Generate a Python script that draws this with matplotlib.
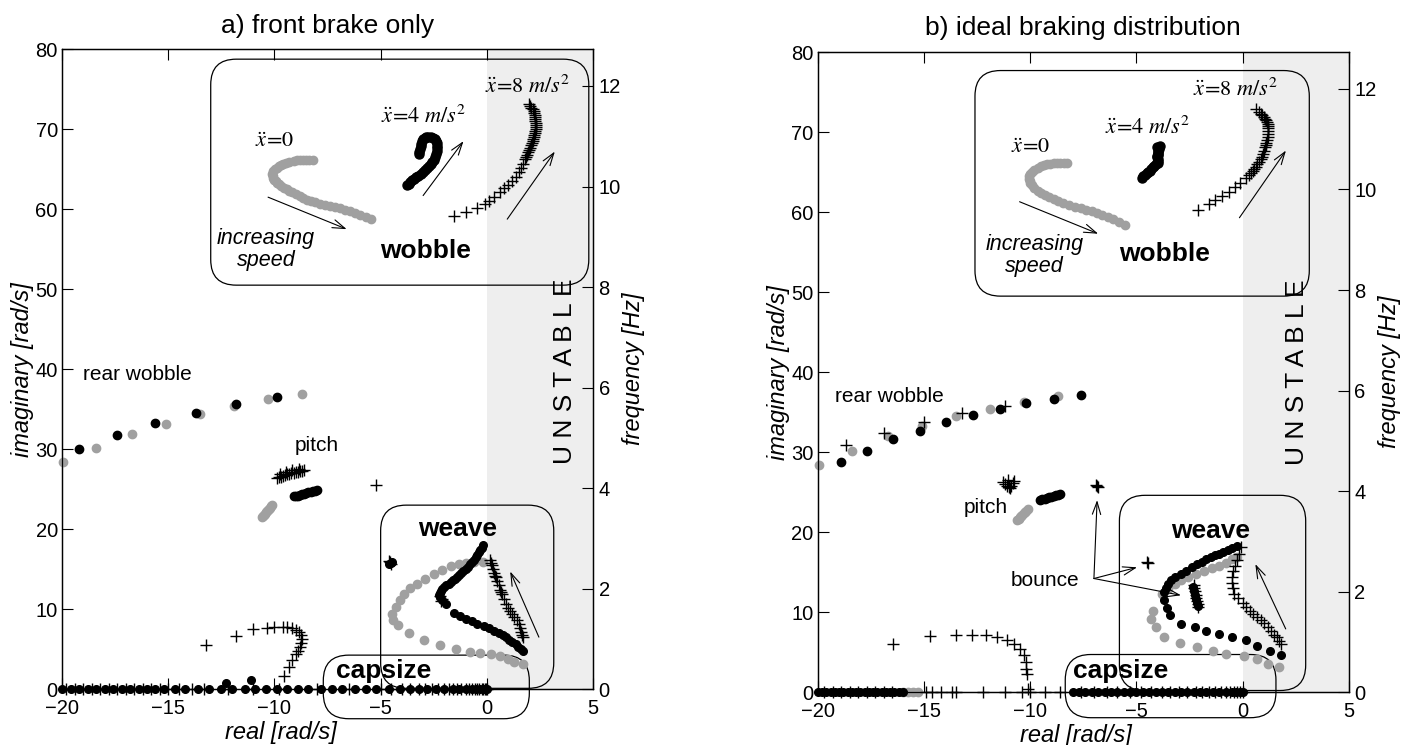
import numpy as np
import matplotlib
matplotlib.use("Agg")
import matplotlib.pyplot as plt
from matplotlib.patches import FancyBboxPatch

plt.rcParams['font.family'] = ['Liberation Sans', 'DejaVu Sans']
plt.rcParams['mathtext.fontset'] = 'stix'

GREY = '#a0a0a0'
SHADE = '#eeeeee'

# ---------------- panel a) front brake only ----------------
a_rw_grey_x = [-19.95, -18.4, -16.7, -15.1, -13.5, -11.9, -10.3, -8.7]
a_rw_grey_y = [28.4, 30.2, 31.9, 33.2, 34.4, 35.4, 36.25, 36.9]
a_rw_black_x = [-19.2, -17.4, -15.6, -13.7, -11.8, -9.9]
a_rw_black_y = [30.0, 31.75, 33.3, 34.5, 35.6, 36.5]

a_pitch_plus_x = [-9.9, -9.8, -9.7, -9.6, -9.5, -9.4, -9.3, -9.2, -9.1, -9.0, -8.9, -8.8, -8.7, -8.6,
                  -9.75, -9.45, -9.15, -8.85, -5.2]
a_pitch_plus_y = [26.4, 26.5, 26.55, 26.7, 26.75, 26.85, 26.9, 27.0, 27.05, 27.1, 27.2, 27.25, 27.3,
                  27.35, 26.9, 27.2, 27.35, 27.5, 25.5]
a_pitch_black_x = [-9.1, -9.0, -8.9, -8.8, -8.7, -8.6, -8.5, -8.4, -8.3, -8.2, -8.1, -8.0]
a_pitch_black_y = [24.1, 24.15, 24.2, 24.3, 24.35, 24.45, 24.5, 24.6, 24.7, 24.75, 24.8, 24.85]
a_pitch_grey_x = [-10.6, -10.55, -10.5, -10.45, -10.4, -10.35, -10.3, -10.25, -10.2, -10.15, -10.1]
a_pitch_grey_y = [21.5, 21.65, 21.8, 21.95, 22.1, 22.25, 22.4, 22.55, 22.7, 22.85, 23.0]

a_wv_grey_x = [-0.2, -0.6, -1.0, -1.3, -1.7, -2.1, -2.5, -2.9, -3.3, -3.6, -3.9, -4.1, -4.3, -4.45,
               -4.4, -4.2, -3.65, -2.95, -2.2, -1.45, -0.8, -0.3, 0.2, 0.6, 1.0, 1.3, 1.7]
a_wv_grey_y = [15.9, 15.85, 15.8, 15.7, 15.4, 14.9, 14.4, 13.8, 13.2, 12.6, 11.9, 11.1, 10.3, 9.4,
               8.7, 8.0, 7.0, 6.2, 5.5, 5.0, 4.7, 4.5, 4.35, 4.2, 3.8, 3.4, 3.1]
a_wv_black_x = [-0.2, -0.25, -0.3, -0.38, -0.45, -0.52, -0.6, -0.7, -0.8, -0.9, -1.0, -1.1, -1.2, -1.3,
                -1.4, -1.5, -1.6, -1.7, -1.8, -1.9, -2.0, -2.1, -2.15, -2.2, -2.25, -2.2, -2.1,
                -1.9, -1.55, -1.25, -1.0, -0.7, -0.45, -0.15, 0.1, 0.35, 0.55, 0.75, 0.9, 1.05, 1.2,
                1.35, 1.45, 1.6, 1.7]
a_wv_black_y = [18.0, 17.7, 17.4, 17.1, 16.8, 16.5, 16.2, 15.9, 15.6, 15.3, 15.0, 14.75, 14.5, 14.25,
                14.0, 13.8, 13.6, 13.4, 13.2, 13.0, 12.8, 12.55, 12.3, 12.05, 11.8, 11.5, 11.2,
                10.6, 9.5, 9.15, 8.8, 8.5, 8.2, 7.9, 7.6, 7.3, 7.0, 6.75, 6.5, 6.2, 5.9,
                5.6, 5.3, 5.0, 4.75]
a_wv_plus_x = [0.15, 0.2, 0.25, 0.3, 0.35, 0.4, 0.45, 0.5, 0.55, 0.6, 0.65, 0.7, 0.8, 0.9, 1.0, 1.1,
               1.2, 1.3, 1.4, 1.5, 1.55, 1.6, 1.65, 1.7, -2.15, -2.1, -2.2, -4.55, -4.5, -4.6]
a_wv_plus_y = [16.1, 15.8, 15.5, 15.0, 14.5, 14.2, 14.0, 13.5, 13.0, 12.4, 12.1, 11.9, 11.3, 10.7,
               10.2, 9.8, 9.4, 9.0, 8.6, 8.1, 7.6, 7.2, 6.8, 6.5, 11.0, 11.3, 11.6, 15.9, 15.7, 16.0]
a_bounce_black_x = [-4.5, -4.45, -4.6]
a_bounce_black_y = [15.8, 15.95, 15.7]

a_low_plus_x = [-13.2, -11.8, -11.0, -10.35, -10.0, -9.6, -9.4, -9.15, -9.0, -8.85, -8.75, -8.7,
                -8.75, -8.8, -8.9, -9.0, -9.15, -9.3, -9.55]
a_low_plus_y = [5.5, 6.7, 7.5, 7.7, 7.8, 7.8, 7.75, 7.6, 7.4, 7.1, 6.8, 6.3, 5.8, 5.3, 4.8, 4.4, 3.6,
                2.8, 1.6]
a_low_black_x = [-12.3, -11.1]
a_low_black_y = [0.8, 1.1]

a_axis_black_x = [-20, -19.6, -19.2, -18.8, -18.4, -18.0, -17.6, -17.2, -16.8, -16.4, -16.0, -15.6,
                  -15.2, -14.7, -14.2, -13.6, -13.1, -12.5, -12.0, -11.4, -10.9, -10.4, -9.9, -9.4,
                  -8.9, -8.4, -7.8, -7.3, -6.8, -6.2, -5.7, -5.2, -4.6, -4.1, -3.6, -3.2, -2.8,
                  -2.4, -2.0, -1.6, -1.3, -1.0, -0.7, -0.5, -0.3, -0.15, 0.0]
a_axis_plus_x = [-19.8, -19.4, -19.0, -18.6, -18.2, -17.8, -17.4, -17.0, -16.6, -16.2, -15.8, -15.4,
                 -15.0, -14.5, -13.9, -13.3, -12.2, -11.0, -9.8, -8.0, -6.5, -5.0, -4.5, -4.0, -3.6,
                 -3.2, -2.9, -2.6, -2.3, -2.0, -1.8, -1.6, -1.4, -1.2, -1.0, -0.85, -0.7, -0.55,
                 -0.45, -0.35, -0.25, -0.18, -0.1, -0.05, 0.0]

a_wb_grey_x = [-8.2, -8.35, -8.5, -8.65, -8.8, -8.95, -9.1, -9.3, -9.45, -9.6, -9.7, -9.8, -9.9,
               -9.98, -10.05, -10.1, -10.08, -10.05, -10.0, -9.95, -9.88, -9.8, -9.68, -9.55, -9.42,
               -9.3, -9.15, -9.0, -8.82, -8.65, -8.48, -8.3, -8.07, -7.85, -7.62, -7.4, -7.15, -6.9,
               -6.68, -6.45, -6.2, -5.95, -5.7, -5.45]
a_wb_grey_y = [66.2, 66.2, 66.2, 66.2, 66.2, 66.1, 66.0, 65.9, 65.75, 65.6, 65.5, 65.35, 65.2, 65.0,
               64.8, 64.4, 64.15, 63.9, 63.7, 63.5, 63.3, 63.1, 62.9, 62.7, 62.5, 62.3, 62.1, 61.9,
               61.7, 61.45, 61.2, 61.0, 60.85, 60.7, 60.55, 60.4, 60.25, 60.1, 59.95, 59.8, 59.55,
               59.3, 59.0, 58.75]
a_wb_black_x = [-3.75, -3.68, -3.6, -3.52, -3.45, -3.35, -3.25, -3.12, -3.0, -2.9, -2.8, -2.72, -2.65,
                -2.58, -2.5, -2.45, -2.4, -2.37, -2.35, -2.35, -2.35, -2.4, -2.45, -2.55, -2.65,
                -2.75, -2.85, -2.93, -3.0, -3.05, -3.1, -3.12, -3.15, -3.18, -3.2]
a_wb_black_y = [63.0, 63.2, 63.4, 63.6, 63.8, 64.0, 64.2, 64.4, 64.6, 64.85, 65.1, 65.35, 65.6, 65.9,
                66.2, 66.55, 66.9, 67.25, 67.6, 67.95, 68.3, 68.55, 68.8, 68.9, 69.0, 69.0, 69.0,
                68.9, 68.75, 68.5, 68.2, 67.85, 67.5, 67.2, 66.9]
a_wb_plus_x = [-1.55, -1.0, -0.45, -0.1, 0.1, 0.35, 0.6, 0.8, 1.0, 1.2, 1.35, 1.5, 1.6, 1.7, 1.8, 1.85,
               1.9, 1.95, 2.0, 2.05, 2.1, 2.12, 2.15, 2.18, 2.2, 2.22, 2.25, 2.28, 2.3, 2.3, 2.3, 2.3,
               2.29, 2.28, 2.26, 2.25, 2.22, 2.2, 2.15, 2.1, 2.05, 2.0]
a_wb_plus_y = [59.2, 59.7, 60.2, 60.6, 61.0, 61.5, 62.1, 62.7, 63.0, 63.5, 64.0, 64.6, 65.2, 65.7,
               66.3, 66.55, 66.8, 67.1, 67.4, 67.7, 68.0, 68.25, 68.5, 68.75, 69.0, 69.25, 69.5, 69.75,
               70.0, 70.25, 70.5, 70.75, 71.0, 71.25, 71.5, 71.75, 72.0, 72.25, 72.5, 72.7, 72.9, 73.1]

# ---------------- panel b) ideal braking distribution ----------------
b_rw_grey_x = [-19.94, -18.4, -16.7, -15.1, -13.5, -11.9, -10.3, -8.7]
b_rw_grey_y = [28.4, 30.2, 32.0, 33.3, 34.5, 35.4, 36.25, 37.0]
b_rw_black_x = [-18.9, -17.7, -16.45, -15.2, -13.95, -12.7, -11.4, -10.2, -8.9, -7.6]
b_rw_black_y = [28.8, 30.2, 31.6, 32.7, 33.75, 34.7, 35.4, 36.1, 36.7, 37.1]
b_rw_plus_x = [-18.65, -16.9, -15.0, -13.2, -11.2]
b_rw_plus_y = [30.9, 32.4, 33.8, 34.9, 35.75]

b_pitch_plus_x = [-11.3, -11.2, -11.1, -11.0, -10.9, -10.8, -10.75, -11.05, -10.95, -6.85, -6.9, -6.8]
b_pitch_plus_y = [26.3, 26.0, 25.8, 25.6, 25.8, 26.1, 26.4, 26.5, 25.5, 25.8, 25.9, 25.7]
b_pitch_black_x = [-9.55, -9.45, -9.3, -9.2, -9.1, -9.0, -8.9, -8.8, -8.7, -8.6]
b_pitch_black_y = [24.0, 24.1, 24.2, 24.3, 24.35, 24.45, 24.55, 24.6, 24.7, 24.75]
b_pitch_grey_x = [-10.6, -10.55, -10.5, -10.45, -10.4, -10.3, -10.25, -10.2, -10.1]
b_pitch_grey_y = [21.5, 21.7, 21.85, 22.0, 22.15, 22.35, 22.5, 22.7, 22.9]

b_wv_black_x = [-0.27, -0.5, -0.7, -0.9, -1.1, -1.3, -1.5, -1.7, -1.9, -2.15, -2.4, -2.67, -2.9, -3.2,
                -3.35, -3.5, -3.6, -3.7, -3.7, -3.55, -3.4, -2.9, -2.25, -1.73, -1.1, -0.5, 0.15,
                0.67, 1.3, 1.8]
b_wv_black_y = [18.3, 18.0, 17.75, 17.5, 17.3, 17.1, 16.9, 16.6, 16.3, 16.0, 15.6, 15.2, 14.8, 14.4,
                14.0, 13.5, 13.0, 12.5, 11.5, 10.5, 9.6, 8.5, 8.1, 7.7, 7.3, 6.9, 6.5, 5.8, 5.2, 4.6]
b_wv_grey_x = [-0.27, -0.5, -0.8, -1.1, -1.45, -1.8, -2.2, -2.55, -2.9, -3.2, -3.5, -3.8, -4.2, -4.3,
               -4.1, -3.7, -2.95, -2.15, -1.4, -0.8, 0.05, 0.7, 1.2, 1.7]
b_wv_grey_y = [16.9, 16.6, 16.2, 15.8, 15.5, 15.2, 14.8, 14.4, 14.0, 13.5, 12.9, 12.3, 10.2, 9.2,
               8.1, 6.9, 6.1, 5.6, 5.1, 4.8, 4.5, 4.2, 3.5, 3.1]
b_wv_plus_x = [-0.06, -0.15, -0.27, -0.35, -0.45, -0.5, -0.5, -0.45, -0.4, -0.2, 0.0, 0.15, 0.35, 0.5,
               0.67, 0.85, 1.0, 1.2, 1.35, 1.5, 1.6, 1.7, 1.8]
b_wv_plus_y = [18.1, 17.3, 16.5, 15.8, 15.1, 14.4, 13.7, 13.0, 12.3, 11.8, 11.2, 10.6, 10.2, 9.8, 9.4,
               9.0, 8.6, 8.1, 7.6, 7.2, 6.9, 6.4, 6.0]
b_bounce_plus_x = [-4.5, -4.45, -2.3, -2.28, -2.25, -2.2, -2.2, -2.15, -2.1, -2.1]
b_bounce_plus_y = [16.25, 16.1, 13.4, 13.0, 12.6, 12.2, 11.8, 11.4, 11.0, 10.6]
b_bounce_black_x = [-2.35, -2.3, -2.25, -2.2, -2.15, -2.1]
b_bounce_black_y = [13.2, 12.7, 12.2, 11.7, 11.2, 10.8]

b_low_plus_x = [-16.45, -14.7, -13.5, -12.75, -12.1, -11.55, -11.1, -10.75, -10.5, -10.3, -10.2,
                -10.2, -10.15, -10.1]
b_low_plus_y = [6.0, 7.0, 7.1, 7.2, 7.1, 6.9, 6.5, 6.0, 5.4, 4.6, 3.75, 2.9, 2.3, 0.4]

b_axis_black_x = [-20, -19.8, -19.6, -19.4, -19.2, -19.0, -18.8, -18.6, -18.4, -18.2, -18.0, -17.8,
                  -17.6, -17.4, -17.2, -17.0, -16.8, -16.6, -16.4, -16.2, -16.0,
                  -8.0, -7.7, -7.4, -7.1, -6.8, -6.5, -6.2, -5.9, -5.6, -5.3, -5.0, -4.7, -4.4,
                  -4.1, -3.8, -3.5, -3.2, -2.9, -2.6, -2.3, -2.0, -1.7, -1.4, -1.1, -0.8, -0.5,
                  -0.3, -0.1, 0.0]
b_axis_grey_x = [-16.0, -15.75, -15.5, -15.3]
b_axis_plus_x = [-19.7, -19.3, -18.9, -18.5, -18.1, -17.7, -17.3, -16.9, -16.5, -14.9, -14.6, -14.2,
                 -13.7, -13.5, -12.2, -11.2, -10.4, -10.0, -9.3, -8.6, -7.6, -7.0, -6.4, -5.9, -5.3,
                 -4.8, -4.3, -3.8, -3.4, -3.0, -2.6, -2.2, -1.9, -1.6, -1.3, -1.0, -0.8, -0.6,
                 -0.4, -0.25, -0.1, 0.0]

b_wb_grey_x = [-8.25, -8.4, -8.6, -8.75, -8.9, -9.05, -9.2, -9.35, -9.5, -9.65, -9.8, -9.9, -10.0,
               -10.05, -10.05, -10.02, -10.0, -9.9, -9.8, -9.65, -9.5, -9.3, -9.1, -8.9, -8.7, -8.45,
               -8.15, -7.9, -7.6, -7.35, -7.1, -6.85, -6.6, -6.35, -6.1, -5.8, -5.55]
b_wb_grey_y = [66.1, 66.1, 66.1, 66.1, 66.1, 66.05, 66.0, 65.9, 65.8, 65.55, 65.3, 65.0, 64.75, 64.5,
               64.2, 63.95, 63.7, 63.35, 63.0, 62.7, 62.4, 62.15, 61.9, 61.65, 61.4, 61.15, 60.9,
               60.7, 60.5, 60.3, 60.1, 59.9, 59.7, 59.4, 59.1, 58.8, 58.45]
b_wb_black_x = [-4.75, -4.68, -4.6, -4.52, -4.45, -4.38, -4.3, -4.22, -4.15, -4.08, -4.0, -4.0, -4.0,
                -4.05, -4.05, -4.0, -4.0, -4.0, -3.98, -3.95, -4.05, -3.9]
b_wb_black_y = [64.3, 64.5, 64.7, 64.85, 65.0, 65.2, 65.4, 65.6, 65.8, 66.0, 66.2, 66.45, 66.7, 66.85,
                67.0, 67.15, 67.3, 67.5, 67.7, 67.9, 68.1, 68.3]
b_wb_plus_x = [-2.1, -1.6, -1.3, -0.98, -0.65, -0.35, -0.1, 0.17, 0.3, 0.4, 0.5, 0.55, 0.62, 0.7, 0.78,
               0.85, 0.9, 0.95, 1.0, 1.06, 1.09, 1.12, 1.15, 1.18, 1.2, 1.2, 1.2, 1.2, 1.18, 1.15,
               1.1, 1.05, 1.0, 0.92, 0.85, 0.75, 0.65]
b_wb_plus_y = [60.3, 61.0, 61.5, 62.0, 62.5, 63.1, 63.7, 64.3, 64.6, 64.9, 65.15, 65.4, 65.7, 66.0,
               66.3, 66.6, 66.95, 67.3, 67.7, 68.1, 68.4, 68.7, 69.05, 69.4, 69.8, 70.2, 70.5, 70.8,
               71.05, 71.3, 71.5, 71.7, 71.9, 72.1, 72.3, 72.5, 72.9]


def dots(ax, x, y, color, ms):
    ax.plot(x, y, 'o', color=color, ms=ms, mec=color, zorder=3, clip_on=False)


def plus(ax, x, y, ms=9):
    ax.plot(x, y, '+', color='black', ms=ms, mew=1.0, zorder=4, clip_on=False)


def rbox(ax, x0, y0, x1, y1, r=1.2):
    asp = (80 / 640) / (25 / 531)
    p = FancyBboxPatch((x0, y0), x1 - x0, y1 - y0,
                       boxstyle="round,pad=0,rounding_size=%g" % r,
                       mutation_aspect=asp, fill=False, lw=0.9, ec='black',
                       transform=ax.transData, clip_on=False, zorder=2)
    ax.add_patch(p)


def arrow(ax, start, end):
    ax.annotate('', xy=end, xytext=start,
                arrowprops=dict(arrowstyle='->,head_length=0.9,head_width=0.3',
                                lw=0.8, color='black', shrinkA=0, shrinkB=0))


def setup(ax, title, xlab_pos):
    ax.set_xlim(-20, 5)
    ax.set_ylim(0, 80)
    ax.axvspan(0, 5, color=SHADE, zorder=0, lw=0)
    ax.set_xticks([-20, -15, -10, -5, 0, 5])
    ax.set_yticks(range(0, 81, 10))
    ax.tick_params(direction='in', length=8, labelsize=14.5, top=True, pad=3)
    ax.tick_params(axis='x', pad=7)
    ax.tick_params(axis='y', right=False)
    ax.set_xlabel('real [rad/s]', fontsize=17, style='italic')
    ax.xaxis.set_label_coords(xlab_pos, -0.05)
    ax.set_ylabel('imaginary [rad/s]', fontsize=17, style='italic', labelpad=1)
    ax.set_title(title, fontsize=19, pad=12)
    for s in ax.spines.values():
        s.set_linewidth(0.9)
    tw = ax.twinx()
    tw.set_ylim(0, 80 / (2 * np.pi))
    tw.set_yticks(range(0, 13, 2))
    tw.tick_params(direction='in', length=8, labelsize=14.5, pad=4)
    tw.set_ylabel('frequency [Hz]', fontsize=17, style='italic', labelpad=1)
    for s in tw.spines.values():
        s.set_linewidth(0.9)


fig = plt.figure(figsize=(14.1, 7.45), dpi=100)
axa = fig.add_axes([0.044, 0.075, 0.3766, 0.859])
axb = fig.add_axes([0.580, 0.071, 0.3766, 0.859])

setup(axa, 'a) front brake only', 0.412)
setup(axb, 'b) ideal braking distribution', 0.486)

# ---- panel a ----
ax = axa
dots(ax, a_rw_grey_x, a_rw_grey_y, GREY, 6)
dots(ax, a_rw_black_x, a_rw_black_y, 'black', 6)
plus(ax, a_pitch_plus_x, a_pitch_plus_y)
dots(ax, a_pitch_black_x, a_pitch_black_y, 'black', 6)
dots(ax, a_pitch_grey_x, a_pitch_grey_y, GREY, 6)
dots(ax, a_wv_grey_x, a_wv_grey_y, GREY, 6)
dots(ax, a_wv_black_x, a_wv_black_y, 'black', 5.5)
plus(ax, a_wv_plus_x, a_wv_plus_y)
dots(ax, a_bounce_black_x, a_bounce_black_y, 'black', 5.5)
plus(ax, a_low_plus_x, a_low_plus_y)
dots(ax, a_low_black_x, a_low_black_y, 'black', 5.5)
dots(ax, a_axis_black_x, [0] * len(a_axis_black_x), 'black', 5.5)
plus(ax, a_axis_plus_x, [0] * len(a_axis_plus_x))
dots(ax, a_wb_grey_x, a_wb_grey_y, GREY, 6)
dots(ax, a_wb_black_x, a_wb_black_y, 'black', 6.5)
plus(ax, a_wb_plus_x, a_wb_plus_y)

rbox(ax, -13.0, 50.5, 4.8, 78.75)
rbox(ax, -5.0, 0.1, 3.15, 23.0)
rbox(ax, -7.7, -3.7, 2.0, 4.25)
ax.text(-1.4, 20.0, 'weave', fontsize=19, fontweight='bold', ha='center', va='center')
ax.text(-7.1, 2.3, 'capsize', fontsize=19, fontweight='bold', ha='left', va='center')
ax.text(-2.9, 54.8, 'wobble', fontsize=19, fontweight='bold', ha='center', va='center')
ax.text(-10.4, 55.0, 'increasing\nspeed', fontsize=15.5, style='italic', ha='center', va='center',
        linespacing=1.05)
ax.text(-19.0, 39.3, 'rear wobble', fontsize=15, ha='left', va='center')
ax.text(-8.0, 30.5, 'pitch', fontsize=15, ha='center', va='center')
ax.text(-10.0, 68.5, r'$\ddot{x}\!=\!0$', fontsize=16, ha='center', va='center')
ax.text(-3.0, 71.5, r'$\ddot{x}\!=\!4\ m/s^2$', fontsize=16, ha='center', va='center')
ax.text(1.9, 75.3, r'$\ddot{x}\!=\!8\ m/s^2$', fontsize=16, ha='center', va='center')
ax.text(3.7, 39.8, 'U N S T A B L E', fontsize=19, rotation=90, ha='center', va='center')
arrow(ax, (-10.3, 61.5), (-6.6, 57.5))
arrow(ax, (-3.0, 61.7), (-1.1, 68.5))
arrow(ax, (0.96, 58.75), (3.2, 67.2))
arrow(ax, (2.45, 6.5), (1.1, 14.7))

# ---- panel b ----
ax = axb
dots(ax, b_rw_grey_x, b_rw_grey_y, GREY, 6)
dots(ax, b_rw_black_x, b_rw_black_y, 'black', 6)
plus(ax, b_rw_plus_x, b_rw_plus_y)
plus(ax, b_pitch_plus_x, b_pitch_plus_y)
dots(ax, b_pitch_black_x, b_pitch_black_y, 'black', 6)
dots(ax, b_pitch_grey_x, b_pitch_grey_y, GREY, 6)
dots(ax, b_wv_grey_x, b_wv_grey_y, GREY, 6)
dots(ax, b_wv_black_x, b_wv_black_y, 'black', 5.5)
plus(ax, b_wv_plus_x, b_wv_plus_y)
plus(ax, b_bounce_plus_x, b_bounce_plus_y)
dots(ax, b_bounce_black_x, b_bounce_black_y, 'black', 5.5)
plus(ax, b_low_plus_x, b_low_plus_y)
dots(ax, b_axis_grey_x, [0] * len(b_axis_grey_x), GREY, 6)
dots(ax, b_axis_black_x, [0] * len(b_axis_black_x), 'black', 5.5)
plus(ax, b_axis_plus_x, [0] * len(b_axis_plus_x))
dots(ax, b_wb_grey_x, b_wb_grey_y, GREY, 6)
dots(ax, b_wb_black_x, b_wb_black_y, 'black', 6.5)
plus(ax, b_wb_plus_x, b_wb_plus_y)

rbox(ax, -12.6, 49.5, 3.14, 77.7)
rbox(ax, -5.8, 0.2, 2.97, 24.6)
rbox(ax, -8.35, -3.2, 1.57, 4.7)
ax.text(-1.5, 20.2, 'weave', fontsize=19, fontweight='bold', ha='center', va='center')
ax.text(-8.0, 2.6, 'capsize', fontsize=19, fontweight='bold', ha='left', va='center')
ax.text(-3.7, 54.8, 'wobble', fontsize=19, fontweight='bold', ha='center', va='center')
ax.text(-9.8, 54.6, 'increasing\nspeed', fontsize=15.5, style='italic', ha='center', va='center',
        linespacing=1.05)
ax.text(-19.2, 36.9, 'rear wobble', fontsize=15, ha='left', va='center')
ax.text(-12.1, 23.1, 'pitch', fontsize=15, ha='center', va='center')
ax.text(-9.3, 13.9, 'bounce', fontsize=15, ha='center', va='center')
ax.text(-10.0, 68.1, r'$\ddot{x}\!=\!0$', fontsize=16, ha='center', va='center')
ax.text(-4.5, 70.6, r'$\ddot{x}\!=\!4\ m/s^2$', fontsize=16, ha='center', va='center')
ax.text(-0.35, 75.25, r'$\ddot{x}\!=\!8\ m/s^2$', fontsize=16, ha='center', va='center')
ax.text(2.55, 40.0, 'U N S T A B L E', fontsize=19, rotation=90, ha='center', va='center')
arrow(ax, (-10.5, 61.3), (-6.8, 57.3))
arrow(ax, (-0.15, 59.3), (2.04, 67.7))
arrow(ax, (2.03, 7.9), (0.6, 16.0))
arrow(ax, (-7.0, 14.2), (-6.85, 24.0))
arrow(ax, (-7.0, 14.2), (-4.97, 15.6))
arrow(ax, (-7.0, 14.2), (-2.9, 12.1))

fig.savefig('out.png', dpi=100)
